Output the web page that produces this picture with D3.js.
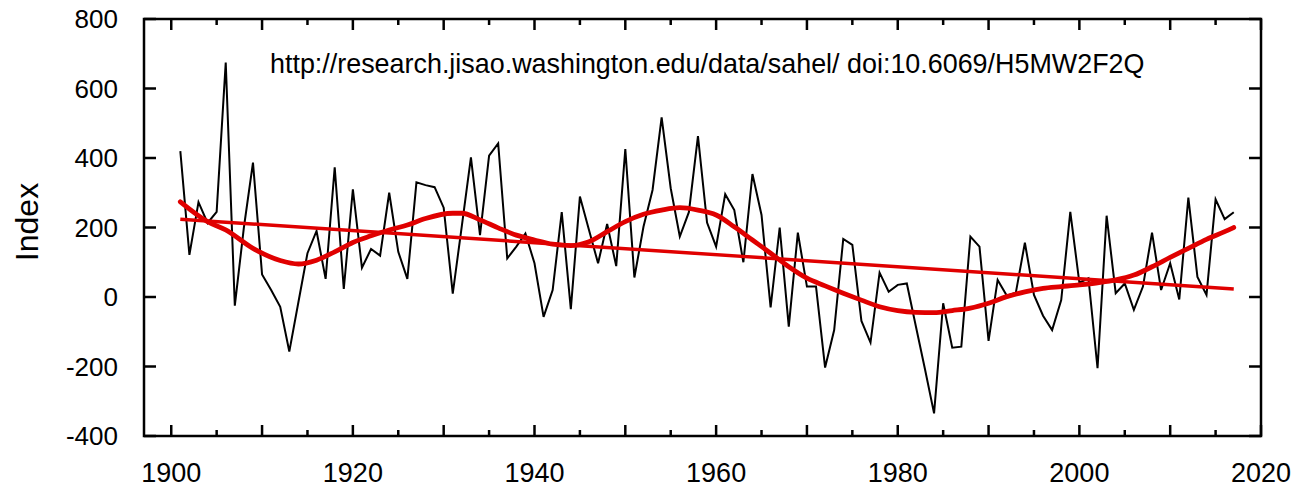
<!DOCTYPE html>
<html>
<head>
<meta charset="utf-8">
<script src="https://cdn.jsdelivr.net/npm/d3@7"></script>
<style>
html,body{margin:0;padding:0;background:#fff;}
svg{display:block;}
text{font-family:"Liberation Sans","Helvetica",Arial,sans-serif;fill:#000;}
</style>
</head>
<body>
<svg id="chart" width="1303" height="489"></svg>
<script>
// ---- data ----
const firstYear = 1901;
const sahelIndex = [420,121,273,213,245,675,-25,200,387,65,
  20,-28,-157,-15,126,190,52,373,23,310,
  84,138,119,300,130,52,330,322,316,257,
  10,205,402,178,407,442,111,145,183,97,
  -57,20,244,-35,289,193,97,210,89,426,
  56,202,308,517,313,174,244,463,214,145,
  296,250,100,354,236,-30,200,-85,185,30,
  30,-203,-95,167,150,-69,-131,70,15,35,
  39,-85,-208,-335,-18,-146,-143,174,145,-126,
  49,4,12,156,6,-54,-95,-9,245,41,
  54,-205,234,11,39,-37,30,185,20,97,
  -7,286,58,6,281,224,244];
const years = sahelIndex.map((_, i) => firstYear + i);

const smoothYears  = [1901,1904,1906,1909,1912,1914,1916,1918,1920,1922,1924,1926,1928,1931,1932,1934,1936,1938,1940,1942,1944,1946,1948,1950,1952,1954,1956,1958,1960,1962,1964,1966,1968,1970,1972,1974,1976,1978,1980,1982,1984,1986,1988,1990,1992,1994,1996,1998,2000,2002,2004,2006,2008,2010,2012,2014,2016,2017];
const smoothValues = [274,217,193,140,105,95,106,130,157,176,193,207,226,241,241,222,199,178,164,152,148,159,188,217,238,250,257,250,236,202,164,126,87,54,32,11,-9,-28,-39,-44,-45,-39,-32,-18,1,15,25,30,35,41,49,63,87,114,140,166,188,200];

const trendYears  = [1901, 2017];
const trendValues = [224, 23];

const xTicks = [1900,1920,1940,1960,1980,2000,2020];
const yTicks = [-400,-200,0,200,400,600,800];
const annotation = "http://research.jisao.washington.edu/data/sahel/ doi:10.6069/H5MW2F2Q";
const yLabel = "Index";

// ---- layout ----
const L = 144, R = 1261, T = 19, B = 436;
const svg = d3.select("#chart");
const x = d3.scaleLinear().domain([1897, 2020]).range([L, R]);
const y = d3.scaleLinear().domain([-400, 800]).range([B, T]);

// lines
const line = d3.line().x(d => x(d[0])).y(d => y(d[1]));
svg.append("path")
  .datum(years.map((yr, i) => [yr, sahelIndex[i]]))
  .attr("d", line)
  .attr("fill", "none").attr("stroke", "#000").attr("stroke-width", 2)
  .attr("stroke-linejoin", "miter");

svg.append("path")
  .datum(trendYears.map((yr, i) => [yr, trendValues[i]]))
  .attr("d", line)
  .attr("fill", "none").attr("stroke", "#e00000").attr("stroke-width", 3.5);

svg.append("path")
  .datum(smoothYears.map((yr, i) => [yr, smoothValues[i]]))
  .attr("d", line.curve(d3.curveMonotoneX))
  .attr("fill", "none").attr("stroke", "#e00000").attr("stroke-width", 4.8)
  .attr("stroke-linecap", "round");

// frame
svg.append("rect").attr("x", L).attr("y", T).attr("width", R - L).attr("height", B - T)
  .attr("fill", "none").attr("stroke", "#000").attr("stroke-width", 2.5);

// x ticks (inward, mirrored)
const xMinor = d3.range(1900, 2021, 5);
xMinor.forEach(v => {
  const len = (v % 10 === 0) ? 11 : 6;
  svg.append("line").attr("x1", x(v)).attr("x2", x(v)).attr("y1", B).attr("y2", B - len)
    .attr("stroke", "#000").attr("stroke-width", 2.5);
  svg.append("line").attr("x1", x(v)).attr("x2", x(v)).attr("y1", T).attr("y2", T + len)
    .attr("stroke", "#000").attr("stroke-width", 2.5);
});
yTicks.forEach(v => {
  svg.append("line").attr("x1", L).attr("x2", L + 12).attr("y1", y(v)).attr("y2", y(v))
    .attr("stroke", "#000").attr("stroke-width", 2.5);
  svg.append("line").attr("x1", R).attr("x2", R - 12).attr("y1", y(v)).attr("y2", y(v))
    .attr("stroke", "#000").attr("stroke-width", 2.5);
});

// tick labels
svg.selectAll(".xl").data(xTicks).enter().append("text")
  .attr("x", d => x(d)).attr("y", 482).attr("text-anchor", "middle")
  .style("font-size", "27px").text(d => d);
svg.selectAll(".yl").data(yTicks).enter().append("text")
  .attr("x", 118).attr("y", d => y(d) + 9).attr("text-anchor", "end")
  .style("font-size", "26px").text(d => d);

// axis title
svg.append("text").attr("transform", "translate(38,222) rotate(-90)")
  .attr("text-anchor", "middle").style("font-size", "32px").text(yLabel);

// annotation
svg.append("text").attr("x", 270).attr("y", 73).style("font-size", "26.9px").text(annotation);
</script>
</body>
</html>
